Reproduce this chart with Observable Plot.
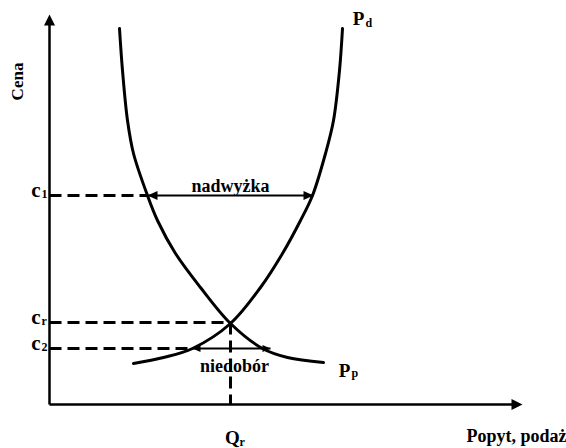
<!DOCTYPE html>
<html><head><meta charset="utf-8">
<script src="https://cdn.jsdelivr.net/npm/d3@7"></script>
<script src="https://cdn.jsdelivr.net/npm/@observablehq/plot@0.6"></script>
<style>
body{margin:0;background:#fff}
svg text{font-family:"Liberation Serif","DejaVu Serif",serif !important;font-weight:700 !important}
</style>
</head><body><div id="chart"></div>
<script>
// Quantity (x) and price (y) in arbitrary units
const demandQ = [70, 73, 78, 84, 98, 108, 126, 151, 181, 213, 238, 274];
const demandP = [376, 334, 284, 251, 209, 184, 151, 117, 81, 56, 47, 42];
const supplyQ = [84, 114, 143, 181, 211, 233, 251, 263, 276, 284, 290, 293];
const supplyP = [41, 47, 56, 81, 117, 151, 184, 209, 251, 284, 334, 376];
const priceNames = ["c", "c", "c"];
const priceSubs = ["1", "r", "2"];
const prices = [209, 82, 56];
const dashEnds = [98, 181, 143];
const Qr = 181;
const surplusRange = [98, 264];
const shortageRange = [143, 221];
const labels = {surplus: "nadwyżka", shortage: "niedobór", yAxis: "Cena", xAxis: "Popyt, podaż"};
const xMax = 473, yMax = 390;

const demand = demandQ.map((q, i) => ({q, p: demandP[i]}));
const supply = supplyQ.map((q, i) => ({q, p: supplyP[i]}));

// custom arrowhead symbols with the tip at the origin
const head = (dir, len, half) => ({
  draw(ctx) {
    if (dir === "right") { ctx.moveTo(0, 0); ctx.lineTo(-len, -half); ctx.lineTo(-len, half); }
    else if (dir === "left") { ctx.moveTo(0, 0); ctx.lineTo(len, -half); ctx.lineTo(len, half); }
    else { ctx.moveTo(0, 0); ctx.lineTo(-half, len); ctx.lineTo(half, len); }
    ctx.closePath();
  }
});

const font = "Liberation Serif, DejaVu Serif, serif";
const bold = {fontFamily: font, fontWeight: "bold", fill: "black"};

const plot = Plot.plot({
  width: 566, height: 448,
  marginLeft: 49, marginRight: 44, marginTop: 14, marginBottom: 44,
  x: {domain: [0, xMax], axis: null},
  y: {domain: [0, yMax], axis: null},
  style: {background: "white", fontFamily: font, overflow: "visible"},
  marks: [
    // axes
    Plot.link([{}], {x1: 0, y1: 0, x2: 0, y2: yMax - 8, strokeWidth: 2.5, stroke: "black"}),
    Plot.link([{}], {x1: 0, y1: 0, x2: xMax - 8, y2: 0, strokeWidth: 2.5, stroke: "black"}),
    Plot.dot([{}], {x: 0, y: yMax, symbol: head("up", 11, 5.5), r: 5, fill: "black", stroke: null}),
    Plot.dot([{}], {x: xMax, y: 0, symbol: head("right", 11, 5.5), r: 5, fill: "black", stroke: null}),
    // dashed guides
    Plot.link(prices.map((p, i) => ({p, e: dashEnds[i]})), {x1: 0, x2: "e", y1: "p", y2: "p", stroke: "black", strokeWidth: 3, strokeDasharray: "12,6"}),
    Plot.link([{q: Qr, p: prices[1]}], {x1: "q", x2: "q", y1: "p", y2: 0, stroke: "black", strokeWidth: 3, strokeDasharray: "12,6"}),
    // curves
    Plot.line(demand, {x: "q", y: "p", curve: "catmull-rom", stroke: "black", strokeWidth: 3}),
    Plot.line(supply, {x: "q", y: "p", curve: "catmull-rom", stroke: "black", strokeWidth: 3}),
    // surplus arrow
    Plot.link([{}], {x1: surplusRange[0], x2: surplusRange[1], y1: prices[0], y2: prices[0], stroke: "black", strokeWidth: 2}),
    Plot.dot([{}], {x: surplusRange[0], y: prices[0], symbol: head("left", 10, 4.5), r: 4, fill: "black", stroke: null}),
    Plot.dot([{}], {x: surplusRange[1], y: prices[0], symbol: head("right", 10, 4.5), r: 4, fill: "black", stroke: null}),
    // shortage arrow
    Plot.link([{}], {x1: shortageRange[0], x2: shortageRange[1], y1: prices[2], y2: prices[2], stroke: "black", strokeWidth: 1.8}),
    Plot.dot([{}], {x: shortageRange[0], y: prices[2], symbol: head("left", 8, 3.5), r: 3, fill: "black", stroke: null}),
    Plot.dot([{}], {x: shortageRange[1], y: prices[2], symbol: head("right", 8, 3.5), r: 3, fill: "black", stroke: null}),
    // price labels
    Plot.text(prices.map((p, i) => ({p, t: priceNames[i]})), {x: 0, y: "p", text: "t", textAnchor: "end", dx: -9, dy: -5, fontSize: 21, ...bold}),
    Plot.text(prices.map((p, i) => ({p, t: priceSubs[i]})), {x: 0, y: "p", text: "t", textAnchor: "start", dx: -8, dy: -1, fontSize: 12, ...bold}),
    // Qr
    Plot.text([{}], {x: Qr, y: 0, text: () => "Q", dx: 2, dy: 33, fontSize: 19, ...bold}),
    Plot.text([{}], {x: Qr, y: 0, text: () => "r", textAnchor: "start", dx: 9, dy: 38, fontSize: 12, ...bold}),
    // curve labels
    Plot.text([supply[supply.length - 1]], {x: "q", y: "p", text: () => "P", dx: 16, dy: -10, fontSize: 19, ...bold}),
    Plot.text([supply[supply.length - 1]], {x: "q", y: "p", text: () => "d", textAnchor: "start", dx: 23, dy: -5, fontSize: 12, ...bold}),
    Plot.text([demand[demand.length - 1]], {x: "q", y: "p", text: () => "P", dx: 21, dy: 8, fontSize: 19, ...bold}),
    Plot.text([demand[demand.length - 1]], {x: "q", y: "p", text: () => "p", textAnchor: "start", dx: 28, dy: 11, fontSize: 12, ...bold}),
    // arrow labels
    Plot.text([{}], {x: (surplusRange[0] + surplusRange[1]) / 2, y: prices[0], text: () => labels.surplus, dy: -9, fontSize: 18, ...bold}),
    Plot.text([{}], {x: (shortageRange[0] + shortageRange[1]) / 2, y: prices[2], text: () => labels.shortage, dx: 3, dy: 18, fontSize: 18, ...bold}),
    // axis titles
    Plot.text([labels.yAxis], {frameAnchor: "top-left", textAnchor: "middle", lineAnchor: "middle", rotate: -90, dx: -32, dy: 67, fontSize: 17, ...bold}),
    Plot.text([labels.xAxis], {frameAnchor: "bottom-right", textAnchor: "end", lineAnchor: "middle", dx: 44, dy: 32, fontSize: 18, ...bold})
  ]
});
document.getElementById("chart").appendChild(plot);
</script>
</body></html>
